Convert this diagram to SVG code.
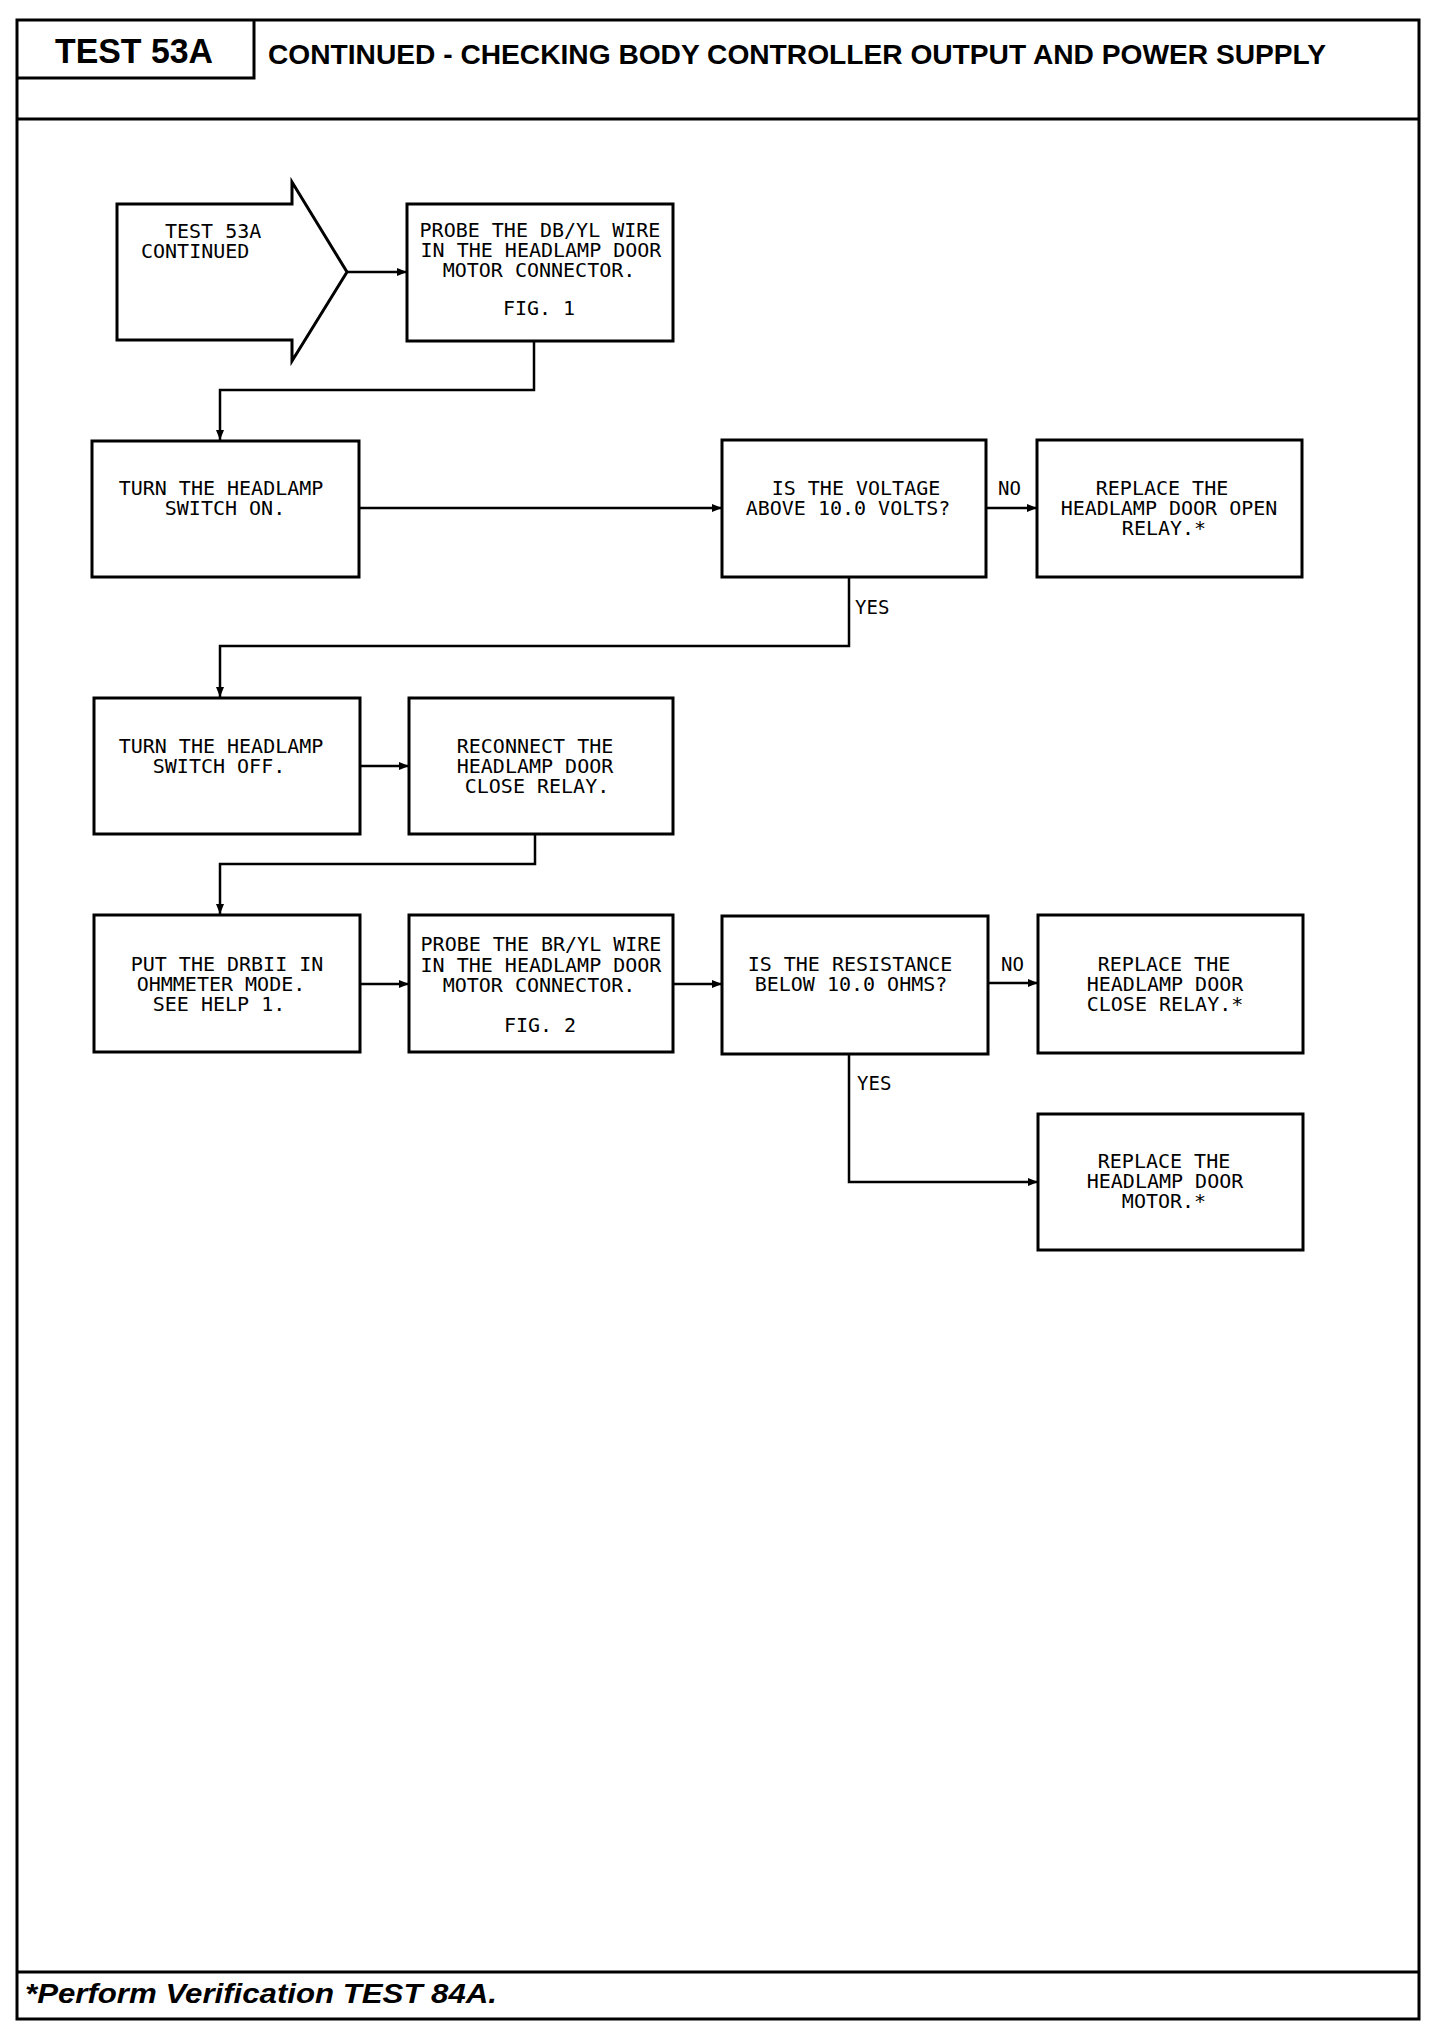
<svg xmlns="http://www.w3.org/2000/svg" width="1440" height="2038" viewBox="0 0 1440 2038">
<defs>
<marker id="ah" viewBox="0 0 10 8" refX="10" refY="4" markerWidth="10" markerHeight="8" markerUnits="userSpaceOnUse" orient="auto">
<path d="M0,0 L10,4 L0,8 Z" fill="#000"/>
</marker>
<style>
.frame{fill:none;stroke:#000;stroke-width:3}
.box{fill:#fff;stroke:#000;stroke-width:3}
.con{fill:none;stroke:#000;stroke-width:2.5}
.t{font-family:"DejaVu Sans Mono","Liberation Mono",monospace;font-size:20px;fill:#000;text-anchor:middle}
.ts{font-family:"DejaVu Sans Mono","Liberation Mono",monospace;font-size:20px;fill:#000}
.lab{font-family:"DejaVu Sans Mono","Liberation Mono",monospace;font-size:19px;fill:#000}
.hd{font-family:"Liberation Sans",Arial,sans-serif;font-weight:bold;fill:#000}
</style>
</defs>
<rect width="1440" height="2038" fill="#fff"/>
<g id="frame">
<rect class="frame" x="17" y="20" width="1402" height="1999"/>
<line class="frame" x1="17" y1="119" x2="1419" y2="119"/>
<line class="frame" x1="17" y1="1972" x2="1419" y2="1972"/>
<polyline class="frame" points="17,78 254,78 254,20"/>
<text class="hd" x="55" y="63" font-size="35" textLength="158" lengthAdjust="spacingAndGlyphs">TEST 53A</text>
<text class="hd" x="268" y="64" font-size="28" textLength="1058" lengthAdjust="spacingAndGlyphs">CONTINUED - CHECKING BODY CONTROLLER OUTPUT AND POWER SUPPLY</text>
<text class="hd" x="25" y="2003" font-size="28" font-style="italic" textLength="472" lengthAdjust="spacingAndGlyphs">*Perform Verification TEST 84A.</text>
</g>
<g id="connectors">
<line class="con" x1="347" y1="272" x2="407" y2="272" marker-end="url(#ah)"/>
<polyline class="con" points="534,341 534,390 220,390 220,440" marker-end="url(#ah)"/>
<line class="con" x1="359" y1="508" x2="722" y2="508" marker-end="url(#ah)"/>
<line class="con" x1="986" y1="508" x2="1037" y2="508" marker-end="url(#ah)"/>
<polyline class="con" points="849,577 849,646 220,646 220,697" marker-end="url(#ah)"/>
<line class="con" x1="360" y1="766" x2="409" y2="766" marker-end="url(#ah)"/>
<polyline class="con" points="535,834 535,864 220,864 220,914" marker-end="url(#ah)"/>
<line class="con" x1="360" y1="984" x2="409" y2="984" marker-end="url(#ah)"/>
<line class="con" x1="673" y1="984" x2="722" y2="984" marker-end="url(#ah)"/>
<line class="con" x1="988" y1="983" x2="1038" y2="983" marker-end="url(#ah)"/>
<polyline class="con" points="849,1054 849,1182 1038,1182" marker-end="url(#ah)"/>
<text class="lab" x="998" y="495">NO</text>
<text class="lab" x="855" y="614">YES</text>
<text class="lab" x="1001" y="971">NO</text>
<text class="lab" x="857" y="1090">YES</text>
</g>
<g id="start">
<polygon class="box" points="117,204 292,204 292,182 347,272 292,361 292,340 117,340"/>
<text class="ts" x="165" y="238">TEST 53A</text>
<text class="ts" x="141" y="258">CONTINUED</text>
</g>
<g id="probe1">
<rect class="box" x="407" y="204" width="266" height="137"/>
<text class="t" x="540" y="237">PROBE THE DB/YL WIRE</text>
<text class="t" x="541" y="257">IN THE HEADLAMP DOOR</text>
<text class="t" x="539" y="277">MOTOR CONNECTOR.</text>
<text class="t" x="539" y="315">FIG. 1</text>
</g>
<g id="switchon">
<rect class="box" x="92" y="441" width="267" height="136"/>
<text class="t" x="221" y="495">TURN THE HEADLAMP</text>
<text class="t" x="225" y="515">SWITCH ON.</text>
</g>
<g id="voltage">
<rect class="box" x="722" y="440" width="264" height="137"/>
<text class="t" x="856" y="495">IS THE VOLTAGE</text>
<text class="t" x="848" y="515">ABOVE 10.0 VOLTS?</text>
</g>
<g id="openrelay">
<rect class="box" x="1037" y="440" width="265" height="137"/>
<text class="t" x="1162" y="495">REPLACE THE</text>
<text class="t" x="1169" y="515">HEADLAMP DOOR OPEN</text>
<text class="t" x="1164" y="535">RELAY.*</text>
</g>
<g id="switchoff">
<rect class="box" x="94" y="698" width="266" height="136"/>
<text class="t" x="221" y="753">TURN THE HEADLAMP</text>
<text class="t" x="219" y="773">SWITCH OFF.</text>
</g>
<g id="reconnect">
<rect class="box" x="409" y="698" width="264" height="136"/>
<text class="t" x="535" y="753">RECONNECT THE</text>
<text class="t" x="535" y="773">HEADLAMP DOOR</text>
<text class="t" x="537" y="793">CLOSE RELAY.</text>
</g>
<g id="ohmmeter">
<rect class="box" x="94" y="915" width="266" height="137"/>
<text class="t" x="227" y="971">PUT THE DRBII IN</text>
<text class="t" x="221" y="991">OHMMETER MODE.</text>
<text class="t" x="219" y="1011">SEE HELP 1.</text>
</g>
<g id="probe2">
<rect class="box" x="409" y="915" width="264" height="137"/>
<text class="t" x="541" y="951">PROBE THE BR/YL WIRE</text>
<text class="t" x="541" y="972">IN THE HEADLAMP DOOR</text>
<text class="t" x="539" y="992">MOTOR CONNECTOR.</text>
<text class="t" x="540" y="1032">FIG. 2</text>
</g>
<g id="resistance">
<rect class="box" x="722" y="916" width="266" height="138"/>
<text class="t" x="850" y="971">IS THE RESISTANCE</text>
<text class="t" x="851" y="991">BELOW 10.0 OHMS?</text>
</g>
<g id="closerelay">
<rect class="box" x="1038" y="915" width="265" height="138"/>
<text class="t" x="1164" y="971">REPLACE THE</text>
<text class="t" x="1165" y="991">HEADLAMP DOOR</text>
<text class="t" x="1165" y="1011">CLOSE RELAY.*</text>
</g>
<g id="motor">
<rect class="box" x="1038" y="1114" width="265" height="136"/>
<text class="t" x="1164" y="1168">REPLACE THE</text>
<text class="t" x="1165" y="1188">HEADLAMP DOOR</text>
<text class="t" x="1164" y="1208">MOTOR.*</text>
</g>
</svg>
